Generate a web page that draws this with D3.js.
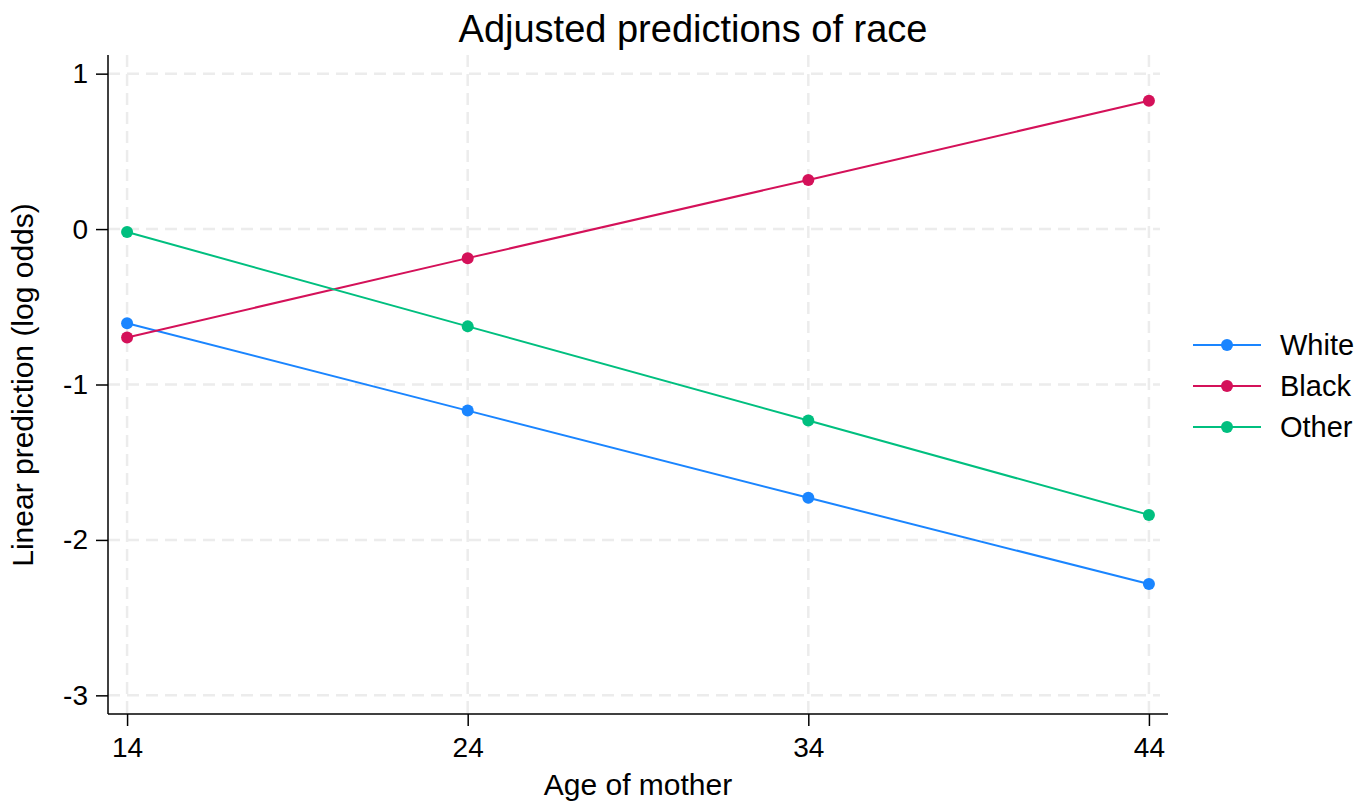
<!DOCTYPE html>
<html>
<head>
<meta charset="utf-8">
<script src="https://cdn.jsdelivr.net/npm/d3@7"></script>
<style>
  html, body { margin: 0; padding: 0; background: #fff; }
  svg { display: block; font-family: "Liberation Sans", Arial, Helvetica, sans-serif; }
</style>
</head>
<body>
<svg id="chart" width="1359" height="802"></svg>
<script>
// Mother's age at which predictions are evaluated
const ages = [14, 24, 34, 44];
// Linear predictions (log odds) by race
const white = [-0.606, -1.168, -1.729, -2.284];
const black = [-0.697, -0.187, 0.316, 0.826];
const other = [-0.019, -0.626, -1.232, -1.839];
const seriesNames = ["White", "Black", "Other"];
const seriesColors = ["#1a85ff", "#d41159", "#00bf7f"];
const yTicks = [1, 0, -1, -2, -3];

const svg = d3.select("#chart");
const plotLeft = 108, plotRight = 1168, plotTop = 55, plotBottom = 714;

const x = d3.scaleLinear().domain([13.44, 44.56]).range([plotLeft, plotRight]);
const y = d3.scaleLinear().domain([-3.12, 1.12]).range([plotBottom, plotTop]);

// Grid lines
const grid = svg.append("g").attr("stroke", "#ececec").attr("stroke-width", 2.5)
  .attr("stroke-dasharray", "12,7");
grid.selectAll(".gy").data(yTicks).join("line")
  .attr("x1", plotLeft).attr("x2", plotRight - 8)
  .attr("y1", d => y(d)).attr("y2", d => y(d));
grid.selectAll(".gx").data(ages).join("line")
  .attr("x1", d => x(d)).attr("x2", d => x(d))
  .attr("y1", plotTop).attr("y2", plotBottom);

// Axes
const plainInt = d => String(d);
const yAxis = svg.append("g").attr("transform", `translate(${plotLeft},0)`)
  .call(d3.axisLeft(y).tickValues(yTicks).tickSize(12).tickPadding(8).tickFormat(plainInt));
const xAxis = svg.append("g").attr("transform", `translate(0,${plotBottom})`)
  .call(d3.axisBottom(x).tickValues(ages).tickSize(12).tickPadding(11).tickFormat(plainInt));
[yAxis, xAxis].forEach(a => {
  a.attr("font-size", null).attr("font-family", null);
  a.select(".domain").attr("stroke", "#000").attr("stroke-width", 1.5);
  a.selectAll(".tick line").attr("stroke", "#000").attr("stroke-width", 1.5);
  a.selectAll(".tick text").style("font-size", "28px").attr("fill", "#000");
});
yAxis.select(".domain").attr("d", `M0,${plotTop}V${plotBottom}`);
xAxis.select(".domain").attr("d", `M${plotLeft},0H${plotRight}`);

// Series
const series = [white, black, other];
const line = d3.line().x((d, i) => x(ages[i])).y(d => y(d));
series.forEach((vals, k) => {
  const g = svg.append("g");
  g.append("path").datum(vals).attr("d", line)
    .attr("fill", "none").attr("stroke", seriesColors[k]).attr("stroke-width", 2);
  g.selectAll("circle").data(vals).join("circle")
    .attr("cx", (d, i) => x(ages[i])).attr("cy", d => y(d)).attr("r", 6)
    .attr("fill", seriesColors[k]);
});

// Titles
svg.append("text").attr("x", 693).attr("y", 42).attr("text-anchor", "middle")
  .style("font-size", "38px").text("Adjusted predictions of race");
svg.append("text").attr("x", 638).attr("y", 795).attr("text-anchor", "middle")
  .style("font-size", "30px").text("Age of mother");
svg.append("text").attr("transform", "translate(33,385) rotate(-90)")
  .attr("text-anchor", "middle").style("font-size", "30px").text("Linear prediction (log odds)");

// Legend
const legend = svg.append("g");
seriesNames.forEach((name, k) => {
  const ly = 345 + k * 41;
  legend.append("line").attr("x1", 1193).attr("x2", 1261).attr("y1", ly).attr("y2", ly)
    .attr("stroke", seriesColors[k]).attr("stroke-width", 2);
  legend.append("circle").attr("cx", 1227).attr("cy", ly).attr("r", 6).attr("fill", seriesColors[k]);
  legend.append("text").attr("x", 1280).attr("y", ly + 10).style("font-size", "29px").text(name);
});
</script>
</body>
</html>
